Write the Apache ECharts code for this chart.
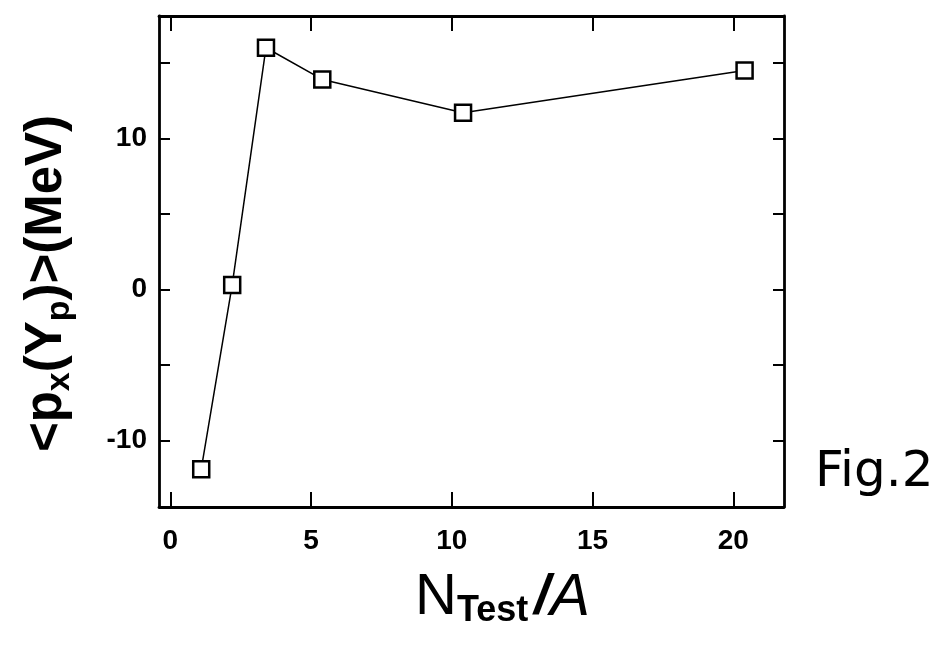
<!DOCTYPE html>
<html>
<head>
<meta charset="utf-8">
<script src="https://cdn.jsdelivr.net/npm/echarts@6/dist/echarts.min.js"></script>
<style>html,body{margin:0;padding:0;background:#fff}#c{width:939px;height:646px}</style>
</head>
<body>
<div id="c"></div>
<script>
var xValues = [1.1, 2.2, 3.4, 5.4, 10.4, 20.4];
var yValues = [-11.9, 0.3, 16.0, 13.9, 11.7, 14.5];
var xTicks = [0, 5, 10, 15, 20];
var yTicks = [-10, -5, 0, 5, 10, 15];
var yLabels = [-10, 0, 10];

var chart = echarts.init(document.getElementById('c'));
var font = '"Liberation Sans Narrow","Liberation Sans",Arial,sans-serif';
var sans = '"Liberation Sans",Arial,sans-serif';
var lineStyle = {color: '#000', width: 2.8};
var data = xValues.map(function (x, i) { return [x, yValues[i]]; });

function xAxisBase(pos) {
  return {
    type: 'value', min: -0.4, max: 21.8, position: pos,
    axisLine: {show: true, onZero: false, lineStyle: lineStyle},
    axisTick: {show: true, inside: true, length: 15, customValues: xTicks, lineStyle: {color: '#000', width: 2}},
    splitLine: {show: false}
  };
}
function yAxisBase(pos) {
  return {
    type: 'value', min: -14.4, max: 18.1, position: pos,
    axisLine: {show: true, onZero: false, lineStyle: lineStyle},
    axisTick: {show: true, inside: true, length: 11, customValues: yTicks, lineStyle: {color: '#000', width: 2}},
    splitLine: {show: false}
  };
}

var xb = xAxisBase('bottom');
xb.axisLabel = {customValues: xTicks, color: '#000', fontSize: 28, fontWeight: 'bold', fontFamily: font, margin: 20};
xb.name = '{n|N}{s|Test}{sl|/}{a|A}';
xb.nameLocation = 'middle';
xb.nameGap = 60;
xb.nameTextStyle = {
  padding: [0, 0, 0, 62],
  rich: {
    n: {fontSize: 58, fontFamily: sans, color: '#000'},
    s: {fontSize: 36, fontFamily: sans, color: '#000', fontWeight: 'bold', padding: [26, 0, 0, 0]},
    sl: {fontSize: 56, fontWeight: 'bold', fontStyle: 'italic', fontFamily: sans, color: '#000', padding: [0, 0, 0, 6]},
    a: {fontSize: 60, fontStyle: 'italic', fontFamily: sans, color: '#000'}
  }
};
var xt = xAxisBase('top');
xt.axisLabel = {show: false};

var yl = yAxisBase('left');
yl.axisLabel = {customValues: yLabels, color: '#000', fontSize: 28, fontWeight: 'bold', fontFamily: font, margin: 12};
yl.name = '<p{sub|x}(Y{sub|p})>(MeV)';
yl.nameLocation = 'middle';
yl.nameGap = 82;
yl.nameRotate = 90;
yl.nameTextStyle = {
  color: '#000', fontSize: 51, fontWeight: 'bold', fontFamily: sans,
  padding: [0, 44, 0, 0],
  rich: {sub: {fontSize: 34, color: '#000', fontFamily: sans, padding: [26, 0, 0, 0]}}
};
var yr = yAxisBase('right');
yr.axisLabel = {show: false};

chart.setOption({
  animation: false,
  backgroundColor: '#fff',
  grid: {left: 159, right: 155, top: 16, bottom: 139},
  xAxis: [xb, xt],
  yAxis: [yl, yr],
  series: [{
    type: 'line',
    data: data,
    symbol: 'rect', symbolSize: 16,
    itemStyle: {color: '#fff', borderColor: '#000', borderWidth: 2.5},
    lineStyle: {color: '#000', width: 1.5}
  }],
  graphic: [{
    type: 'text', left: 815, top: 448,
    style: {text: 'Fig.2', fontSize: 50, fontFamily: '"DejaVu Sans",sans-serif', fill: '#000'}
  }]
});
</script>
</body>
</html>
